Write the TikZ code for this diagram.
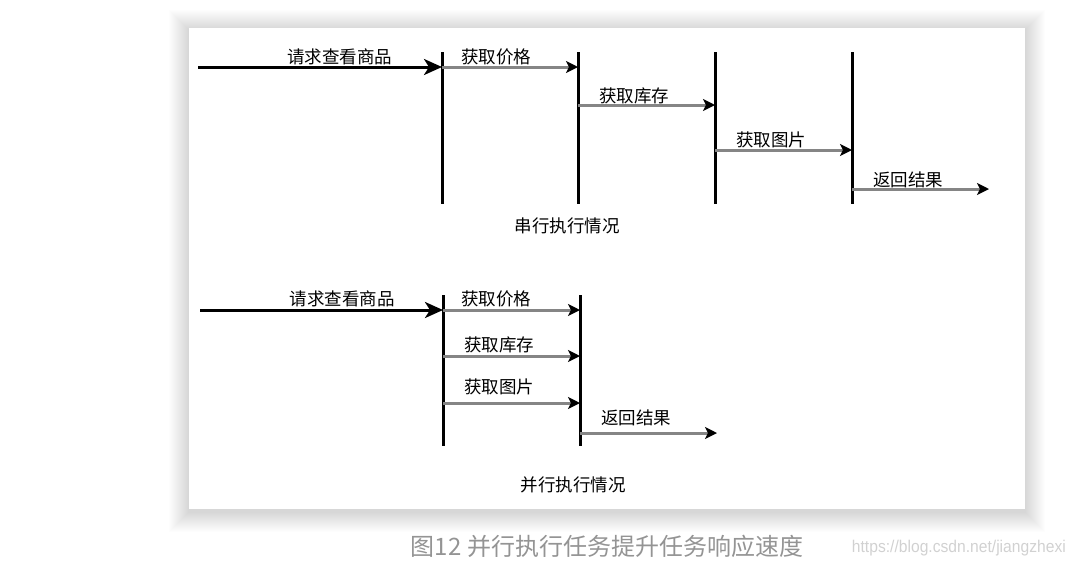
\documentclass[tikz,border=0pt]{standalone}
\usepackage{fontspec}
\setmainfont{Noto Sans CJK SC}
\newfontfamily\wmfont{Liberation Sans}
\usetikzlibrary{arrows.meta, positioning}

\begin{document}
\begin{tikzpicture}[x=1pt, y=-1pt,
  bar/.style={line width=3pt, black},
  req/.style={line width=3pt, black, -{Stealth[length=18pt,width=16pt,inset=5pt]}},
  call/.style={line width=3pt, black!48, -{Stealth[length=12pt,width=12pt,inset=3pt,color=black]}},
  lbl/.style={font=\fontsize{17.5}{18}\selectfont, anchor=base, inner sep=0pt, text=black},
  captxt/.style={font=\fontsize{17.5}{18}\selectfont, inner sep=0pt, text=black}]
  \useasboundingbox (0,0) rectangle (1076,566);
  % panel with soft shadow
  \foreach \d in {1,...,20}
    \fill[black, opacity=0.008] (189-\d,30-\d) rectangle (1025+\d,512+\d);
  \fill[white] (189,28) rectangle (1025,509);

  % serial case
  \coordinate (s0) at (198,67);
  \coordinate (r1) at (0,67);  \coordinate (r2) at (0,105);
  \coordinate (r3) at (0,150); \coordinate (r4) at (0,189);
  \coordinate (a1) at (442,52); \coordinate (a1b) at (442,204);
  \coordinate (a2) at (578,52); \coordinate (a2b) at (578,204);
  \coordinate (a3) at (715,52); \coordinate (a3b) at (715,204);
  \coordinate (a4) at (852,52); \coordinate (a4b) at (852,204);
  \coordinate (e1) at (989,189);
  \foreach \n in {1,...,4} \draw[bar] (a\n) -- (a\n b);
  \draw[req] (s0) -- (s0 -| a1) node[lbl, pos=0.58, yshift=4pt]{请求查看商品};
  \draw[call] (a1 |- r1) -- (a2 |- r1) node[lbl, pos=0.40, yshift=4pt]{获取价格};
  \draw[call] (a2 |- r2) -- (a3 |- r2) node[lbl, pos=0.41, yshift=3pt]{获取库存};
  \draw[call] (a3 |- r3) -- (a4 |- r3) node[lbl, pos=0.41, yshift=4pt]{获取图片};
  \draw[call] (a4 |- r4) -- (e1) node[lbl, pos=0.41, yshift=3pt]{返回结果};
  \node[captxt] (serial) at (567,226) {串行执行情况};

  % parallel case
  \coordinate (p0) at (200,310);
  \coordinate (q1) at (0,310); \coordinate (q2) at (0,356);
  \coordinate (q3) at (0,403); \coordinate (q4) at (0,433);
  \coordinate (b1) at (443,295); \coordinate (b1b) at (443,446);
  \coordinate (b2) at (580,295); \coordinate (b2b) at (580,446);
  \coordinate (e2) at (717,433);
  \foreach \n in {1,2} \draw[bar] (b\n) -- (b\n b);
  \draw[req] (p0) -- (p0 -| b1) node[lbl, pos=0.585, yshift=5pt]{请求查看商品};
  \draw[call] (b1 |- q1) -- (b2 |- q1) node[lbl, pos=0.39, yshift=5pt]{获取价格};
  \draw[call] (b1 |- q2) -- (b2 |- q2) node[lbl, pos=0.41, yshift=5pt]{获取库存};
  \draw[call] (b1 |- q3) -- (b2 |- q3) node[lbl, pos=0.41, yshift=10pt]{获取图片};
  \draw[call] (b2 |- q4) -- (e2) node[lbl, pos=0.41, yshift=9pt]{返回结果};
  \node[captxt] (parallel) at (573,485) {并行执行情况};

  % figure caption
  \node[font=\fontsize{24}{26}\selectfont, text=black!42, inner sep=0pt] (title) at (607,546) {图12 并行执行任务提升任务响应速度};
  \node[font=\wmfont\fontsize{17}{17}\selectfont, text=black!18, inner sep=0pt, anchor=east, xscale=0.92] (mark) at (1066,548) {https://blog.csdn.net/jiangzhexi};
\end{tikzpicture}
\end{document}
